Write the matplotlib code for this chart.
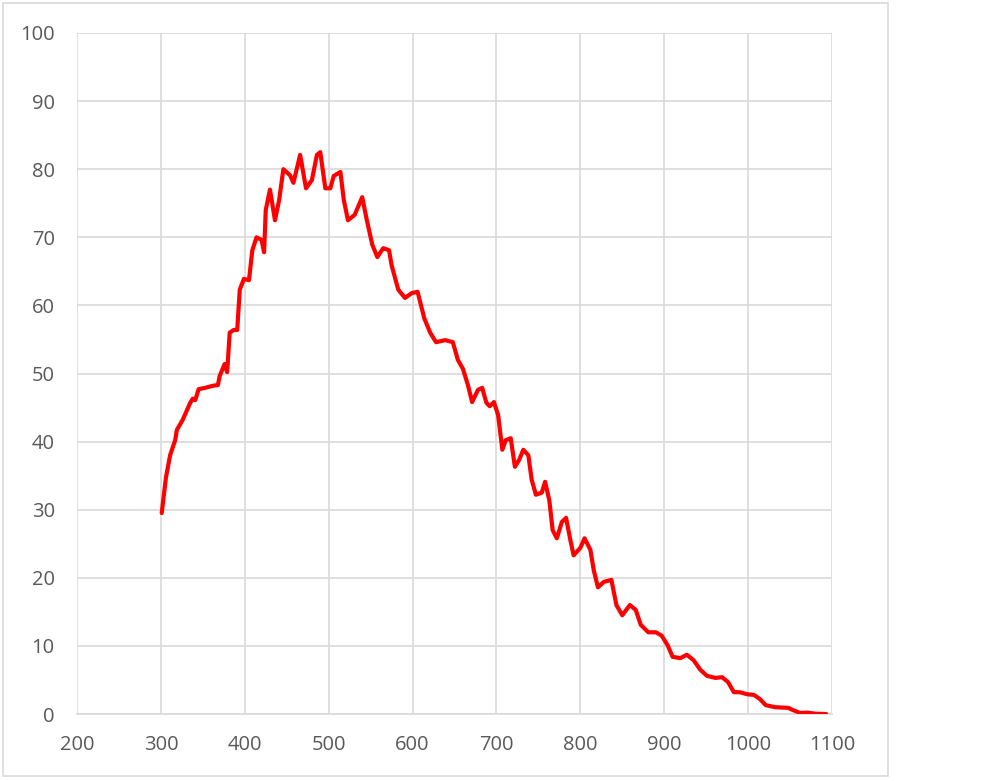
import matplotlib
matplotlib.use("Agg")
import matplotlib.pyplot as plt
from matplotlib.patches import Rectangle

# wavelength (nm) and value
wl = [301, 306, 311, 317, 319, 326, 335, 338, 341, 345, 353, 362, 368, 370, 376, 379,
      382, 387, 391, 394, 399, 405, 409, 414, 420, 423, 425, 430, 436, 441, 446, 454,
      458, 466, 473, 480, 486, 490, 496, 502, 506, 514, 518, 523, 531, 540, 545, 552,
      558, 565, 572, 575, 583, 591, 599, 606, 614, 621, 628, 639, 648, 654, 660, 666,
      671, 678, 683, 688, 692, 697, 702, 707, 711, 717, 722, 727, 732, 738, 742, 747,
      754, 758, 763, 767, 772, 778, 783, 788, 792, 800, 805, 812, 816, 821, 828, 837,
      843, 850, 859, 866, 872, 881, 890, 897, 904, 910, 919, 927, 935, 943, 951, 961,
      969, 976, 983, 990, 999, 1007, 1014, 1021, 1032, 1048, 1053, 1062, 1071, 1080, 1093]
val = [29.5, 34.7, 38.0, 40.2, 41.7, 43.2, 45.7, 46.3, 46.1, 47.7, 47.9, 48.2, 48.3, 49.6, 51.4, 50.2,
       56.0, 56.4, 56.4, 62.3, 63.9, 63.7, 68.1, 70.0, 69.6, 67.8, 74.0, 77.0, 72.5, 75.5, 80.0, 79.1,
       78.0, 82.1, 77.2, 78.4, 82.1, 82.5, 77.2, 77.2, 79.0, 79.6, 75.5, 72.5, 73.3, 75.9, 72.8, 68.9,
       67.1, 68.4, 68.1, 65.9, 62.3, 61.1, 61.8, 62.0, 58.1, 56.0, 54.6, 54.9, 54.6, 52.0, 50.7, 48.3,
       45.8, 47.6, 47.9, 45.7, 45.2, 45.8, 43.9, 38.8, 40.2, 40.5, 36.3, 37.3, 38.8, 38.0, 34.4, 32.2,
       32.5, 34.1, 31.4, 27.0, 25.8, 28.2, 28.8, 25.6, 23.3, 24.4, 25.8, 24.1, 21.1, 18.6, 19.4, 19.7,
       16.0, 14.5, 16.0, 15.3, 13.1, 12.0, 12.0, 11.5, 10.1, 8.4, 8.2, 8.7, 7.9, 6.5, 5.6, 5.3,
       5.4, 4.7, 3.2, 3.2, 2.9, 2.8, 2.2, 1.3, 1.0, 0.9, 0.6, 0.15, 0.2, 0.05, 0.0]

xticks = list(range(200, 1101, 100))
yticks = list(range(0, 101, 10))

plt.rcParams['font.family'] = ['Open Sans', 'DejaVu Sans']

fig = plt.figure(figsize=(10, 7.81), dpi=100)
ax = fig.add_axes([0.077, 1 - 714 / 781, 0.755, 681 / 781])

ax.plot(wl, val, color="#ff0000", lw=3.0, solid_joinstyle="round", solid_capstyle="round", zorder=3)

ax.set_xlim(200, 1100)
ax.set_ylim(0, 100)
ax.set_xticks(xticks)
ax.set_yticks(yticks)
ax.grid(True, color="#d9d9d9", lw=1.2)
ax.set_axisbelow(True)
for s in ["top", "right", "left"]:
    ax.spines[s].set_visible(False)
ax.spines["bottom"].set_color("#d9d9d9")
ax.spines["bottom"].set_linewidth(1.2)
ax.tick_params(length=0, labelsize=14.5, labelcolor="#595959")
ax.tick_params(axis="x", pad=15)
ax.tick_params(axis="y", pad=16)

# outer chart border
fig.patches.append(Rectangle((3 / 1000, 1 - 776 / 781), 885 / 1000, 773 / 781,
                             transform=fig.transFigure, fill=False,
                             edgecolor="#d9d9d9", lw=1.2))

fig.savefig("out.png", dpi=100)
